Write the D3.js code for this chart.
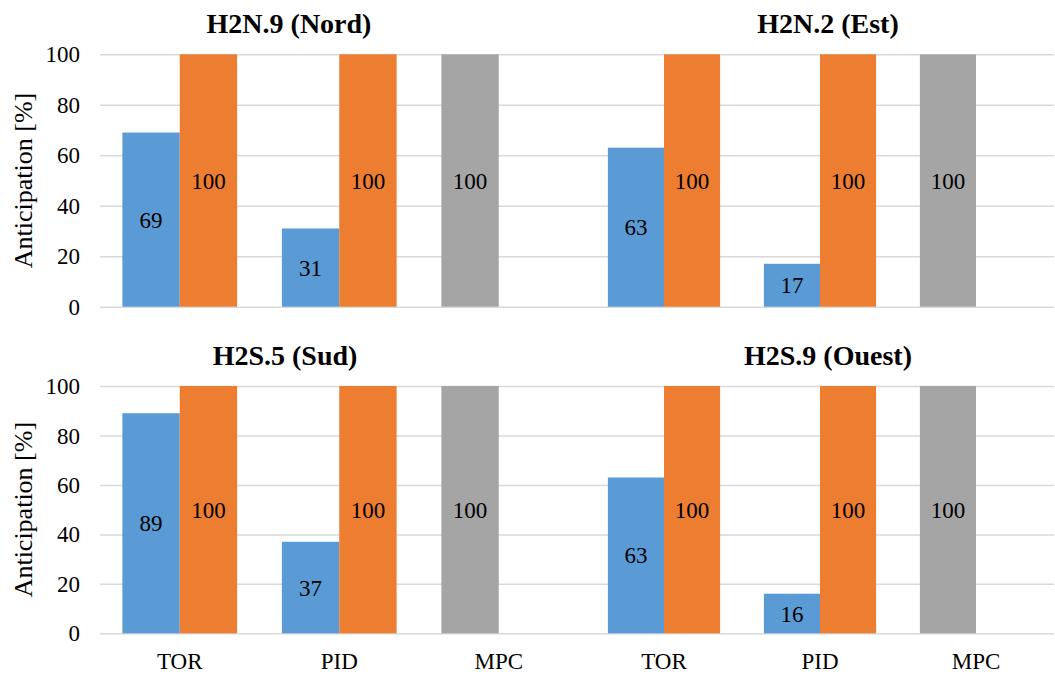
<!DOCTYPE html>
<html>
<head>
<meta charset="utf-8">
<script src="https://cdn.jsdelivr.net/npm/d3@7/dist/d3.min.js"></script>
<style>
  body { margin: 0; background: #fff; }
  svg text { font-family: "Liberation Serif", "Tinos", "DejaVu Serif", serif; fill: #000; }
  .grid line { stroke: #d9d9d9; stroke-width: 1.5; }
  .grid path { display: none; }
</style>
</head>
<body>
<div id="chart"></div>
<script>
// categories and series
var categories = ["TOR", "PID", "MPC"];
var titles = ["H2N.9 (Nord)", "H2N.2 (Est)", "H2S.5 (Sud)", "H2S.9 (Ouest)"];
// first bar of each group (blue, grey for MPC)
var nordFirst = [69, 31, 100];
var estFirst = [63, 17, 100];
var sudFirst = [89, 37, 100];
var ouestFirst = [63, 16, 100];
// second bar of each group (orange), MPC has none
var nordSecond = [100, 100, null];
var estSecond = [100, 100, null];
var sudSecond = [100, 100, null];
var ouestSecond = [100, 100, null];
var yTicks = [0, 20, 40, 60, 80, 100];

(function() {
  var width = 1055, height = 675;
  var serif = "'Liberation Serif', 'Tinos', 'DejaVu Serif', serif";

  var svg = d3.select("#chart")
        .append("svg")
        .attr("width", width)
        .attr("height", height)
        .attr("font-family", serif);

  var panels = [
    { title: titles[0], first: nordFirst, second: nordSecond, x0: 100, x1: 578.5, gx0: 100, gx1: 586, top: 54.3, bottom: 306.7, titleX: 289, titleY: 33, axisLabel: true, xLabels: false },
    { title: titles[1], first: estFirst, second: estSecond, x0: 586, x1: 1054, gx0: 586, gx1: 1054, top: 54.3, bottom: 306.7, titleX: 828, titleY: 33, axisLabel: false, xLabels: false },
    { title: titles[2], first: sudFirst, second: sudSecond, x0: 100, x1: 578.5, gx0: 100, gx1: 586, top: 386, bottom: 633.3, titleX: 285, titleY: 365, axisLabel: true, xLabels: true },
    { title: titles[3], first: ouestFirst, second: ouestSecond, x0: 586, x1: 1054, gx0: 586, gx1: 1054, top: 386, bottom: 633.3, titleX: 828, titleY: 365, axisLabel: false, xLabels: true }
  ];

  panels.forEach(function(p) {
    var g = svg.append("g");

    var xScale = d3.scaleBand().domain(categories).range([p.x0, p.x1]);
    var subScale = d3.scaleBand().domain(["first", "second"])
      .range([0, xScale.bandwidth()])
      .paddingOuter(0.39);
    var yScale = d3.scaleLinear().domain([0, 100]).range([p.bottom, p.top]);

    // gridlines
    g.append("g")
      .attr("class", "grid")
      .attr("transform", "translate(" + p.gx0 + ",0)")
      .call(d3.axisLeft(yScale)
        .tickValues(yTicks)
        .tickSize(-(p.gx1 - p.gx0))
        .tickFormat(""));

    // y tick labels, only on the left column
    if (p.axisLabel) {
      g.selectAll(".ytick")
        .data(yTicks)
        .enter().append("text")
        .attr("class", "ytick")
        .attr("x", 80)
        .attr("y", function(d) { return yScale(d); })
        .attr("dy", "0.35em")
        .attr("text-anchor", "end")
        .style("font-size", "23px")
        .text(function(d) { return d; });

      g.append("text")
        .attr("transform", "translate(32," + ((p.top + p.bottom) / 2) + ") rotate(-90)")
        .attr("text-anchor", "middle")
        .style("font-size", "26px")
        .text("Anticipation [%]");
    }

    var rows = [];
    categories.forEach(function(c, i) {
      rows.push({ cat: c, key: "first", value: p.first[i] });
      if (p.second[i] != null) rows.push({ cat: c, key: "second", value: p.second[i] });
    });

    g.selectAll("rect")
      .data(rows)
      .enter().append("rect")
      .attr("x", function(d) { return xScale(d.cat) + subScale(d.key); })
      .attr("width", subScale.bandwidth())
      .attr("y", function(d) { return yScale(d.value); })
      .attr("height", function(d) { return yScale(0) - yScale(d.value); })
      .attr("fill", function(d) {
        if (d.key == "second") return "#ed7d31";
        if (d.cat == "MPC") return "#a5a5a5";
        return "#5b9bd5";
      });

    // value labels in the middle of each bar
    g.selectAll(".val")
      .data(rows)
      .enter().append("text")
      .attr("class", "val")
      .attr("x", function(d) { return xScale(d.cat) + subScale(d.key) + subScale.bandwidth() / 2; })
      .attr("y", function(d) { return (yScale(d.value) + yScale(0)) / 2; })
      .attr("dy", "0.35em")
      .attr("text-anchor", "middle")
      .style("font-size", "23px")
      .text(function(d) { return d.value; });

    if (p.xLabels) {
      g.selectAll(".xlab")
        .data(categories)
        .enter().append("text")
        .attr("class", "xlab")
        .attr("x", function(d) { return xScale(d) + xScale.bandwidth() / 2; })
        .attr("y", 669)
        .attr("text-anchor", "middle")
        .style("font-size", "23px")
        .text(function(d) { return d; });
    }

    g.append("text")
      .attr("x", p.titleX)
      .attr("y", p.titleY)
      .attr("text-anchor", "middle")
      .style("font-size", "28px")
      .style("font-weight", "bold")
      .text(p.title);
  });
})();
</script>
</body>
</html>
